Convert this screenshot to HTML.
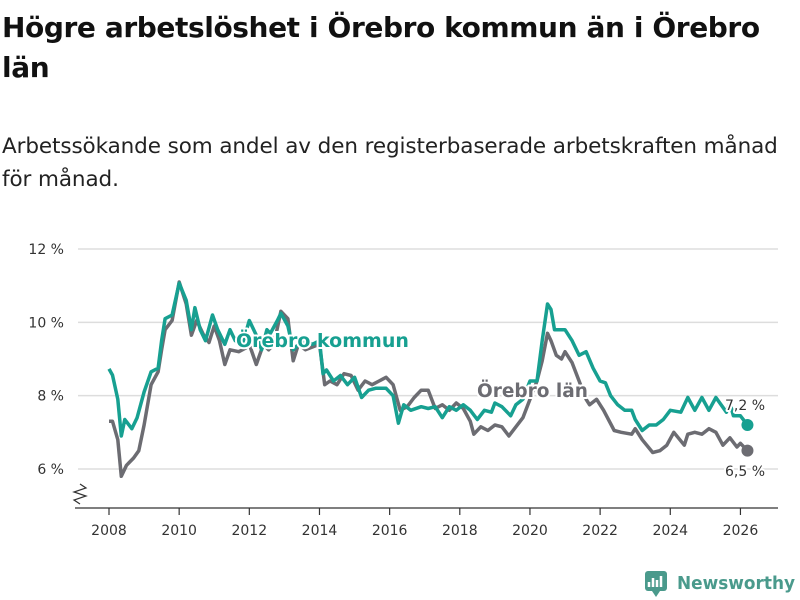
<!DOCTYPE html>
<html><head><meta charset="utf-8"><style>
body{margin:0;width:800px;height:600px;background:#fff;font-family:"DejaVu Sans",sans-serif;color:#111;overflow:hidden;position:relative}
h1{position:absolute;left:2px;top:8px;margin:0;font-size:28px;line-height:40px;font-weight:bold;width:790px;letter-spacing:-0.4px}
p{position:absolute;left:2px;top:130px;margin:0;font-size:21.5px;line-height:33px;width:784px;color:#222;letter-spacing:-0.1px}
svg{position:absolute;left:0;top:0}
</style></head><body>
<h1>Högre arbetslöshet i Örebro kommun än i Örebro län</h1>
<p>Arbetssökande som andel av den registerbaserade arbetskraften månad för månad.</p>
<svg id="chart" width="800" height="600"></svg>
<script>
const kommunX=[2008.0,2008.1,2008.25,2008.35,2008.45,2008.65,2008.8,2009.0,2009.2,2009.4,2009.5,2009.6,2009.8,2010.0,2010.2,2010.35,2010.45,2010.6,2010.75,2010.95,2011.1,2011.3,2011.45,2011.6,2011.8,2012.0,2012.2,2012.35,2012.5,2012.6,2012.8,2012.9,2013.1,2013.25,2013.4,2013.6,2013.8,2014.0,2014.1,2014.2,2014.4,2014.6,2014.8,2015.0,2015.2,2015.4,2015.6,2015.9,2016.1,2016.25,2016.4,2016.6,2016.9,2017.1,2017.3,2017.5,2017.7,2017.9,2018.1,2018.3,2018.5,2018.7,2018.9,2019.0,2019.2,2019.45,2019.6,2019.8,2020.0,2020.2,2020.35,2020.5,2020.6,2020.7,2021.0,2021.2,2021.4,2021.6,2021.8,2022.0,2022.15,2022.3,2022.5,2022.7,2022.9,2023.0,2023.2,2023.4,2023.6,2023.8,2024.0,2024.3,2024.5,2024.7,2024.9,2025.1,2025.3,2025.6,2025.7,2025.8,2026.0,2026.2];
const kommunY=[8.73,8.56,7.9,6.9,7.35,7.1,7.4,8.1,8.65,8.75,9.5,10.1,10.2,11.07,10.6,9.8,10.4,9.8,9.5,10.2,9.8,9.4,9.8,9.5,9.4,10.05,9.65,9.25,9.8,9.7,10.05,10.25,9.9,9.25,9.4,9.5,9.4,9.5,8.6,8.7,8.4,8.55,8.3,8.5,7.95,8.15,8.2,8.2,8.0,7.25,7.75,7.6,7.7,7.65,7.7,7.4,7.7,7.6,7.75,7.6,7.35,7.6,7.55,7.8,7.7,7.45,7.75,7.9,8.4,8.4,9.5,10.5,10.35,9.8,9.8,9.5,9.1,9.2,8.75,8.4,8.35,8.0,7.75,7.6,7.6,7.35,7.05,7.2,7.2,7.35,7.6,7.55,7.95,7.6,7.95,7.6,7.95,7.55,7.8,7.45,7.45,7.2];
const lanX=[2008.0,2008.1,2008.25,2008.35,2008.5,2008.7,2008.85,2009.0,2009.2,2009.4,2009.5,2009.6,2009.8,2010.0,2010.2,2010.35,2010.5,2010.7,2010.85,2011.0,2011.15,2011.3,2011.45,2011.7,2011.9,2012.0,2012.2,2012.4,2012.55,2012.7,2012.9,2013.1,2013.25,2013.4,2013.6,2014.0,2014.15,2014.3,2014.5,2014.7,2014.9,2015.1,2015.3,2015.5,2015.7,2015.9,2016.1,2016.3,2016.5,2016.7,2016.9,2017.1,2017.3,2017.5,2017.7,2017.9,2018.1,2018.3,2018.4,2018.6,2018.8,2019.0,2019.2,2019.4,2019.6,2019.8,2020.0,2020.2,2020.35,2020.5,2020.6,2020.75,2020.9,2021.0,2021.2,2021.4,2021.6,2021.7,2021.9,2022.1,2022.4,2022.6,2022.9,2023.0,2023.2,2023.5,2023.7,2023.9,2024.1,2024.4,2024.5,2024.7,2024.9,2025.1,2025.3,2025.5,2025.7,2025.9,2026.0,2026.2];
const lanY=[7.3,7.3,6.8,5.8,6.1,6.3,6.5,7.2,8.3,8.65,9.25,9.8,10.05,11.1,10.5,9.65,10.05,9.65,9.45,9.9,9.5,8.85,9.25,9.2,9.3,9.4,8.85,9.4,9.25,9.4,10.3,10.1,8.95,9.4,9.25,9.4,8.3,8.4,8.3,8.6,8.55,8.15,8.4,8.3,8.4,8.5,8.3,7.6,7.7,7.95,8.15,8.15,7.65,7.75,7.6,7.8,7.65,7.3,6.95,7.15,7.05,7.2,7.15,6.9,7.15,7.4,7.9,8.4,8.95,9.7,9.5,9.1,9.0,9.2,8.9,8.4,7.9,7.75,7.9,7.6,7.05,7.0,6.95,7.1,6.8,6.45,6.5,6.65,7.0,6.65,6.95,7.0,6.95,7.1,7.0,6.65,6.85,6.6,6.7,6.5];
const yTicks=[6,8,10,12];
const yTickLabels=["6 %","8 %","10 %","12 %"];
const xTicks=[2008,2010,2012,2014,2016,2018,2020,2022,2024,2026];
const NS="http://www.w3.org/2000/svg";
const FF='DejaVu Sans, sans-serif';
const svg=document.getElementById('chart');
const sx=v=>109+(v-2008)*35.08;
const sy=v=>469-(v-6)*36.67;
function mk(t,a,p){const e=document.createElementNS(NS,t);for(const k in a)e.setAttribute(k,a[k]);(p||svg).appendChild(e);return e;}
yTicks.forEach((t,i)=>{
  const g=mk('line',{x1:78,x2:778,y1:sy(t),y2:sy(t),stroke:'#ddd','stroke-width':1.5});
  
  
  const l=mk('text',{x:64,y:sy(t)+5,'text-anchor':'end','font-size':14,fill:'#333','font-family':FF});
  l.textContent=yTickLabels[i];
  
  
});
const ax=mk('line',{x1:75,x2:778,y1:508,y2:508,stroke:'#333','stroke-width':1.2});


const br=mk('path',{d:'M80,484 L86,488 L74,492 L86,496 L74,500 L80,504',fill:'none',stroke:'#333','stroke-width':1.2});


xTicks.forEach(t=>{
  const k=mk('line',{x1:sx(t),x2:sx(t),y1:508,y2:515,stroke:'#333','stroke-width':1.2});
  
  
  const l=mk('text',{x:sx(t),y:535,'text-anchor':'middle','font-size':14,fill:'#333','font-family':FF});
  l.textContent=t;
  
  
});
function line(xs,ys,c,name){
  const d=xs.map((x,i)=>(i?'L':'M')+sx(x).toFixed(1)+','+sy(ys[i]).toFixed(1)).join('');
  const p=mk('path',{d:d,fill:'none',stroke:c,'stroke-width':3.5,'stroke-linejoin':'round'});
  
  
  const e=mk('circle',{cx:sx(xs[xs.length-1]),cy:sy(ys[ys.length-1]),r:6,fill:c});
  
  
}
line(lanX,lanY,'#6c6c72','lan-line');
line(kommunX,kommunY,'#17a091','kommun-line');
function lab(x,y,txt,c,name,bold,size){
  const t=mk('text',{x:x,y:y,fill:c,'font-size':size,'font-weight':bold?'bold':'normal',stroke:'#fff','stroke-width':4,'paint-order':'stroke','stroke-linejoin':'round','font-family':FF});
  t.textContent=txt;
  
  
}
lab(236,347,'Örebro kommun','#17a091','kommun-label',true,19);
lab(477,397,'Örebro län','#6c6c72','lan-label',true,18.5);
lab(725,410,'7,2 %','#333','kommun-end-value',false,14);
lab(725,476,'6,5 %','#333','lan-end-value',false,14);
const logo=mk('g',{});


mk('rect',{x:645,y:571,width:22,height:20,rx:3,fill:'#4a9a8c'},logo);
mk('path',{d:'M649,587 V582 M653,587 V578 M657,587 V580 M661,587 V576',stroke:'#fff','stroke-width':2.5},logo);
mk('path',{d:'M652,591 L656,597 L660,591Z',fill:'#4a9a8c'},logo);
const lt=mk('text',{x:677,y:589,'font-size':18,'font-weight':'bold',fill:'#4a9a8c','font-family':FF,textLength:118,lengthAdjust:'spacingAndGlyphs'},logo);
lt.textContent='Newsworthy';
</script>
</body></html>
